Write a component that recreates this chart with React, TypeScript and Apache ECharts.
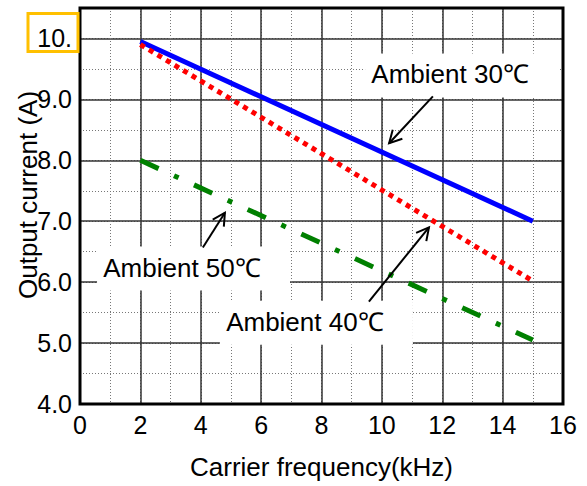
import React, { useEffect, useRef } from "react";
import * as echarts from "echarts";

// ---- data ----
const freqPoints = [2, 15]; // kHz
const ambient30 = [9.95, 7.0];
const ambient40 = [9.9, 6.02];
const ambient50 = [8.0, 5.05];

const xMin = 0;
const xMax = 16;
const yMin = 4;
const yMax = 10.5;

// annotation anchors in data coordinates
const annotations = [
  { text: "Ambient 30℃", center: [12.26, 9.41], tail: [11.69, 9.05], tip: [10.24, 8.28] },
  { text: "Ambient 50℃", center: [3.38, 6.24], tail: [4.07, 6.57], tip: [4.8, 7.14] },
  { text: "Ambient 40℃", center: [7.45, 5.35], tail: [9.57, 5.68], tip: [11.56, 6.9] },
];

const FONT = "'Liberation Sans', Arial, Helvetica, sans-serif";

export default function App() {
  const ref = useRef<HTMLDivElement>(null);

  useEffect(() => {
    if (!ref.current) return;
    const chart = echarts.init(ref.current, null, { renderer: "svg" });

    const minorSplit = { show: true, lineStyle: { color: "#777", width: 1, type: [1, 2] as any } };
    const majorSplit = { show: true, lineStyle: { color: "#333", width: 1.5, type: "solid" as any } };

    const mkSeries = (name: string, ys: number[], color: string, type: any) => ({
      name,
      type: "line",
      data: freqPoints.map((x, i) => [x, ys[i]]),
      symbol: "none",
      z: 5,
      lineStyle: { color, width: 5, type, cap: "butt" },
    });

    chart.setOption({
      animation: false,
      grid: { left: 80, right: 24, top: 8, bottom: 82 },
      xAxis: [
        {
          type: "value", min: xMin, max: xMax, interval: 1,
          axisLine: { show: false }, axisTick: { show: false }, axisLabel: { show: false },
          splitLine: minorSplit,
        },
        {
          type: "value", min: xMin, max: xMax, interval: 2, position: "bottom",
          axisLine: { show: false }, axisTick: { show: false },
          axisLabel: { fontSize: 25, color: "#000", margin: 8, fontFamily: FONT },
          splitLine: majorSplit,
          name: "Carrier frequency(kHz)", nameLocation: "middle", nameGap: 50,
          nameTextStyle: { fontSize: 26, color: "#000", fontFamily: FONT },
        },
      ],
      yAxis: [
        {
          type: "value", min: yMin, max: yMax, interval: 0.5,
          axisLine: { show: false }, axisTick: { show: false }, axisLabel: { show: false },
          splitLine: minorSplit,
        },
        {
          type: "value", min: yMin, max: yMax, interval: 1, position: "left",
          axisLine: { show: false }, axisTick: { show: false },
          axisLabel: {
            fontSize: 25, color: "#000", margin: 8, fontFamily: FONT,
            formatter: (v: number) => (Number.isInteger(v) ? (v === 10 ? "10." : v.toFixed(1)) : ""),
          },
          splitLine: majorSplit,
        },
      ],
      series: [
        mkSeries("Ambient 30℃", ambient30, "#0000ff", "solid"),
        mkSeries("Ambient 40℃", ambient40, "#ff0000", [5, 5]),
        mkSeries("Ambient 50℃", ambient50, "#008000", [20, 17, 5, 17]),
      ],
    });

    const toPx = (p: number[]) => chart.convertToPixel({ xAxisIndex: 0, yAxisIndex: 0 }, p) as number[];
    const tl = toPx([xMin, yMax]);
    const br = toPx([xMax, yMin]);
    const ten = toPx([xMin, 10]);

    const graphics: any[] = [];
    annotations.forEach((a) => {
      const c = toPx(a.center);
      const t0 = toPx(a.tail);
      const t1 = toPx(a.tip);
      graphics.push({
        type: "rect", z: 50,
        shape: { x: c[0] - 85, y: c[1] - 21, width: 193, height: 44 },
        style: { fill: "#fff" },
      });
      graphics.push({
        type: "text", z: 51, x: c[0], y: c[1],
        style: { text: a.text, fontSize: 26, fontFamily: FONT, fill: "#000", align: "center", verticalAlign: "middle" },
      });
      graphics.push({
        type: "line", z: 52,
        shape: { x1: t0[0], y1: t0[1], x2: t1[0], y2: t1[1] },
        style: { stroke: "#000", lineWidth: 2 },
      });
      const ang = Math.atan2(t0[1] - t1[1], t0[0] - t1[0]);
      const L = 14, da = (28 * Math.PI) / 180;
      graphics.push({
        type: "polyline", z: 52,
        shape: {
          points: [
            [t1[0] + L * Math.cos(ang + da), t1[1] + L * Math.sin(ang + da)],
            [t1[0], t1[1]],
            [t1[0] + L * Math.cos(ang - da), t1[1] + L * Math.sin(ang - da)],
          ],
        },
        style: { stroke: "#000", lineWidth: 2, fill: null },
      });
    });
    // plot border
    graphics.push({
      type: "rect", z: 60,
      shape: { x: tl[0], y: tl[1], width: br[0] - tl[0], height: br[1] - tl[1] },
      style: { stroke: "#000", lineWidth: 3, fill: null },
    });
    // highlight box around "10." tick label
    graphics.push({
      type: "rect", z: 60,
      shape: { x: ten[0] - 52, y: ten[1] - 25, width: 50, height: 38 },
      style: { stroke: "#FFC000", lineWidth: 3, fill: null },
    });
    // y axis title
    graphics.push({
      type: "text", z: 60, x: 28, y: 195, rotation: Math.PI / 2,
      style: { text: "Output current (A)", fontSize: 26, fontFamily: FONT, fill: "#000", align: "center", verticalAlign: "middle" },
    });

    chart.setOption({ graphic: { elements: graphics } });

    return () => chart.dispose();
  }, []);

  return <div ref={ref} style={{ width: 587, height: 486, position: "absolute", left: 0, top: 0, background: "#fff" }} />;
}
